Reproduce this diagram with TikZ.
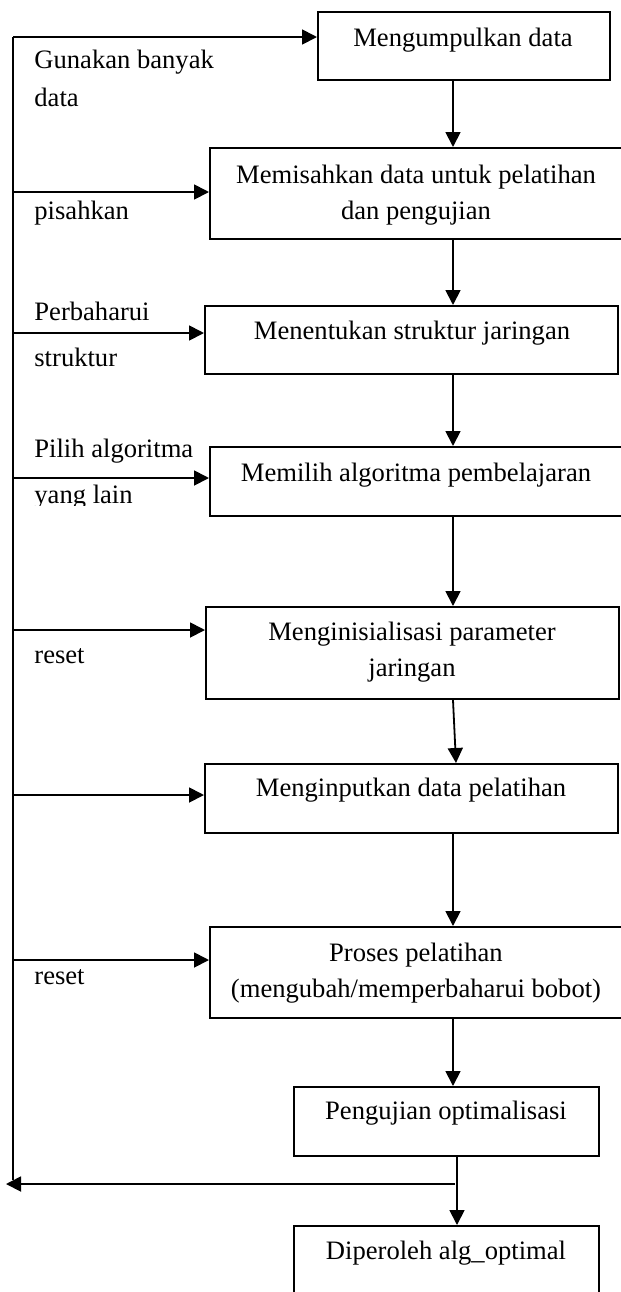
\documentclass[tikz,border=0pt]{standalone}
\usepackage{fontspec}
\setmainfont{Liberation Serif}
\usetikzlibrary{arrows.meta}
\begin{document}
\begin{tikzpicture}[x=0.5pt,y=-0.5pt,
  box/.style={draw, line width=1pt, inner sep=0pt},
  conn/.style={line width=0.9pt},
  arr/.style={conn, -{Triangle[length=7.5pt,width=7.5pt]}},
  txt/.style={inner sep=0pt, align=center, font=\fontsize{13.3}{18}\selectfont},
  lbl/.style={inner sep=0pt, anchor=west, font=\fontsize{13.3}{18}\selectfont}]
\clip (0,0) rectangle (621,1292);
\fill[white] (0,0) rectangle (621,1292);

% boxes
\node[box, minimum width=146pt,   minimum height=34pt]   (b1) at (464,46) {};
\node[box, minimum width=215pt,   minimum height=45.5pt] (b2) at (425,193.5) {};
\node[box, minimum width=206.5pt, minimum height=34pt]   (b3) at (411.5,340) {};
\node[box, minimum width=215pt,   minimum height=34.5pt] (b4) at (425,481.5) {};
\node[box, minimum width=206.5pt, minimum height=46pt]   (b5) at (412.5,653) {};
\node[box, minimum width=206.5pt, minimum height=34.5pt] (b6) at (411.5,798.5) {};
\node[box, minimum width=215pt,   minimum height=45.5pt] (b7) at (425,972.5) {};
\node[box, minimum width=152.5pt, minimum height=34.5pt] (b8) at (446.5,1121.5) {};
\node[box, minimum width=152.5pt, minimum height=52pt]   (b9) at (446.5,1278) {};

% box texts
\node[txt] (t1) at (463,40) {Mengumpulkan data};
\node[txt] (t2) at (416,195) {Memisahkan data untuk pelatihan\\dan pengujian};
\node[txt] (t3) at (412,333) {Menentukan struktur jaringan};
\node[txt] (t4) at (416,475) {Memilih algoritma pembelajaran};
\node[txt] (t5) at (412,652.5) {Menginisialisasi parameter\\jaringan};
\node[txt] (t6) at (411,790) {Menginputkan data pelatihan};
\node[txt] (t7) at (416,973) {Proses pelatihan\\(mengubah/memperbaharui bobot)};
\node[txt] (t8) at (446,1113) {Pengujian optimalisasi};
\node[txt] (t9) at (446,1253) {Diperoleh alg\_optimal};

% left labels
\node[lbl] (l1a) at (34,62) {Gunakan banyak};
\node[lbl] (l1b) at (34,97) {data};
\node[lbl] (l2)  at (34,213) {pisahkan};
\node[lbl] (l3a) at (34,311) {Perbaharui};
\node[lbl] (l3b) at (34,357) {struktur};
\node[lbl] (l4a) at (34,451) {Pilih algoritma};
\begin{scope}
\clip (0,480) rectangle (200,505);
\node[lbl] (l4b) at (34,497) {yang lain};
\end{scope}
\node[lbl] (l5)  at (34,656) {reset};
\node[lbl] (l7)  at (34,977) {reset};

% column coordinates
\coordinate (ax) at (453,0);
\coordinate (cx) at (456,0);
\coordinate (bx) at (457,0);

% main flow
\draw[arr] (b1.south -| ax) -- (b2.north -| ax);
\draw[arr] (b2.south -| ax) -- (b3.north -| ax);
\draw[arr] (b3.south -| ax) -- (b4.north -| ax);
\draw[arr] (b4.south -| ax) -- (b5.north -| ax);
\draw[arr] (b5.south -| ax) -- (b6.north -| cx);
\draw[arr] (b6.south -| ax) -- (b7.north -| ax);
\draw[arr] (b7.south -| ax) -- (b8.north -| ax);
\draw[arr] (b8.south -| bx) -- (b9.north -| bx);

% return line
\coordinate (rj) at (455,1184);
\coordinate (re) at (6,1184);
\draw[arr] (rj) -- (re);

% left trunk and feeds
\coordinate (f1) at (13,37);
\coordinate (f2) at (13,192);
\coordinate (f3) at (13,333);
\coordinate (f4) at (13,478);
\coordinate (f5) at (13,630);
\coordinate (f6) at (13,795);
\coordinate (f7) at (13,960);
\coordinate (lb) at (13,1180);
\draw[conn] (lb) -- (f1);
\draw[arr] (f1) -- (f1 -| b1.west);
\draw[arr] (f2) -- (f2 -| b2.west);
\draw[arr] (f3) -- (f3 -| b3.west);
\draw[arr] (f4) -- (f4 -| b4.west);
\draw[arr] (f5) -- (f5 -| b5.west);
\draw[arr] (f6) -- (f6 -| b6.west);
\draw[arr] (f7) -- (f7 -| b7.west);
\end{tikzpicture}
\end{document}
